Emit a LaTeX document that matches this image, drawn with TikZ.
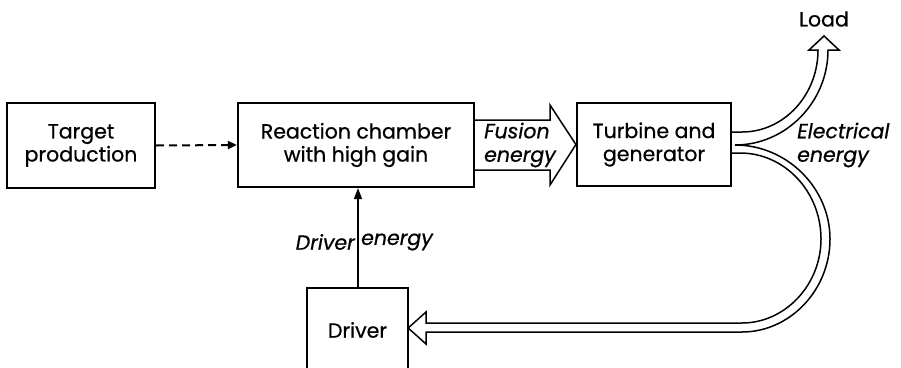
\documentclass[tikz,border=0pt]{standalone}
\usepackage{fontspec}
\setmainfont{Poppins}[UprightFeatures={FakeBold=0.6},ItalicFeatures={FakeBold=0.6}]
\usetikzlibrary{arrows.meta}
\tikzset{
  txt/.style={font=\fontsize{20.5}{23}\selectfont},
  box/.style={draw, line width=2.2pt, align=center, inner sep=0pt, txt},
  lbl/.style={inner sep=0pt, font=\fontsize{20.5}{23.5}\selectfont\itshape},
  outl/.style={draw, line width=1.5pt, fill=white, line join=miter},
}
\begin{document}
\begin{tikzpicture}[x=1pt,y=-1pt]
\useasboundingbox (0,0) rectangle (901,367);
% boxes
\node[box, minimum width=148pt, minimum height=85pt] (target) at (81,145.5) {Target\\production};
\node[box, minimum width=236pt, minimum height=84pt] (react) at (356,145) {Reaction chamber\\with high gain};
\node[box, minimum width=154pt, minimum height=83pt] (turb) at (654,144.5) {Turbine and\\generator};
\node[inner sep=0pt, minimum width=101pt, minimum height=84pt, txt] (driver) at (357.5,330) {Driver};
\draw[line width=2.2pt] (driver.south west) -- (driver.north west) -- (driver.north east) -- (driver.south east);
% dashed arrow
\draw[line width=2pt, dash pattern=on 8pt off 5pt, -{Triangle[length=9pt,width=8pt]}] (target.east) -- (react.west);
% driver energy arrow
\coordinate (dtop) at (react.south -| 358,0);
\draw[line width=1.3pt, -{Triangle[length=11pt,width=8pt]}] (driver.north -| dtop) -- (dtop);
\node[lbl, anchor=east] (dlab1) at (355,242) {Driver};
\node[lbl, anchor=west] (dlab2) at (361,242) {energy};
% fusion energy arrow
\draw[outl] (react.east |- 0,120) -- (550,120) -- (550,105) -- (turb.west) -- (550,185) -- (550,170) -- (react.east |- 0,170);
\node[lbl, align=left, anchor=west] (fus) at (484,145) {Fusion\\energy};
% electrical arrow
\coordinate (v) at (735,145);
\draw[outl] (turb.east |- 0,132) -- (742,132) .. controls (784,132) and (818,95) .. (818,50)
  -- (809,50) -- (824,36) -- (839,50) -- (828,50)
  .. controls (828,102) and (786,145) .. (v)
  .. controls (787,145) and (830,188) .. (830,239)
  .. controls (830,290) and (790,332) .. (742,332)
  -- (426,332) -- (426,344) -- (driver.east |- 0,328) -- (426,312) -- (426,323) -- (742,323)
  .. controls (785,323) and (821,285) .. (821,239)
  .. controls (821,192) and (785,153) .. (740,153)
  -- (turb.east |- 0,153);
\node[lbl, align=left, anchor=west] (elec) at (797,145) {Electrical\\energy};
\node[inner sep=0pt, txt] (load) at (824,19) {Load};
\end{tikzpicture}
\end{document}
